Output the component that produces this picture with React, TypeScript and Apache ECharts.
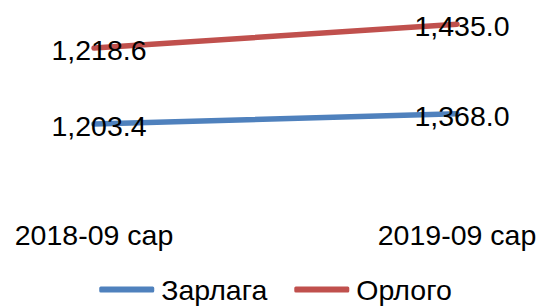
import React, { useEffect, useRef } from "react";
import * as echarts from "echarts";

const categories = ["2018-09 сар", "2019-09 сар"];
const seriesNames = ["Зарлага", "Орлого"];
const zarlaga = [1203.4, 1368.0];
const orlogo = [1218.6, 1435.0];
const colors = ["#4F81BD", "#C0504D"];

const fmt = (v: number) =>
  v.toLocaleString("en-US", { minimumFractionDigits: 1, maximumFractionDigits: 1 });

export default function App() {
  const ref = useRef<HTMLDivElement>(null);
  useEffect(() => {
    document.body.style.margin = "0";
    const chart = echarts.init(ref.current!, null, { renderer: "svg" });
    const font = "Liberation Sans, Arial, sans-serif";
    const mk = (name: string, data: number[], color: string) => ({
      name,
      type: "line",
      stack: "total",
      data,
      symbol: "circle",
      symbolSize: 2,
      itemStyle: { color },
      lineStyle: { color, width: 5.5, cap: "round" },
      label: {
        show: true,
        position: "inside",
        offset: [5, 2],
        color: "#000",
        fontSize: 28.5,
        fontFamily: font,
        formatter: (p: any) => fmt(p.value),
      },
    });
    chart.setOption({
      animation: false,
      backgroundColor: "#fff",
      grid: { left: 94, right: 94, top: 12, bottom: 107 },
      xAxis: {
        type: "category",
        data: categories,
        boundaryGap: false,
        axisLine: { show: false },
        axisTick: { show: false },
        axisLabel: { margin: 21, color: "#000", fontSize: 28.5, fontFamily: font },
      },
      yAxis: {
        type: "value",
        min: 0,
        max: 3000,
        show: false,
        splitLine: { show: false },
      },
      legend: {
        data: seriesNames.map((n, i) => ({ name: n, itemStyle: { color: colors[i] } })),
        left: "center",
        top: 275,
        padding: 0,
        itemGap: 27,
        itemWidth: 55,
        itemHeight: 6,
        icon: "roundRect",
        textStyle: { color: "#000", fontSize: 28.5, fontFamily: font, padding: [0, 0, 0, 2] },
      },
      series: [mk(seriesNames[0], zarlaga, colors[0]), mk(seriesNames[1], orlogo, colors[1])],
    });
    return () => chart.dispose();
  }, []);
  return (
    <div
      ref={ref}
      style={{ position: "fixed", left: 0, top: 0, width: 551, height: 306 }}
    />
  );
}
